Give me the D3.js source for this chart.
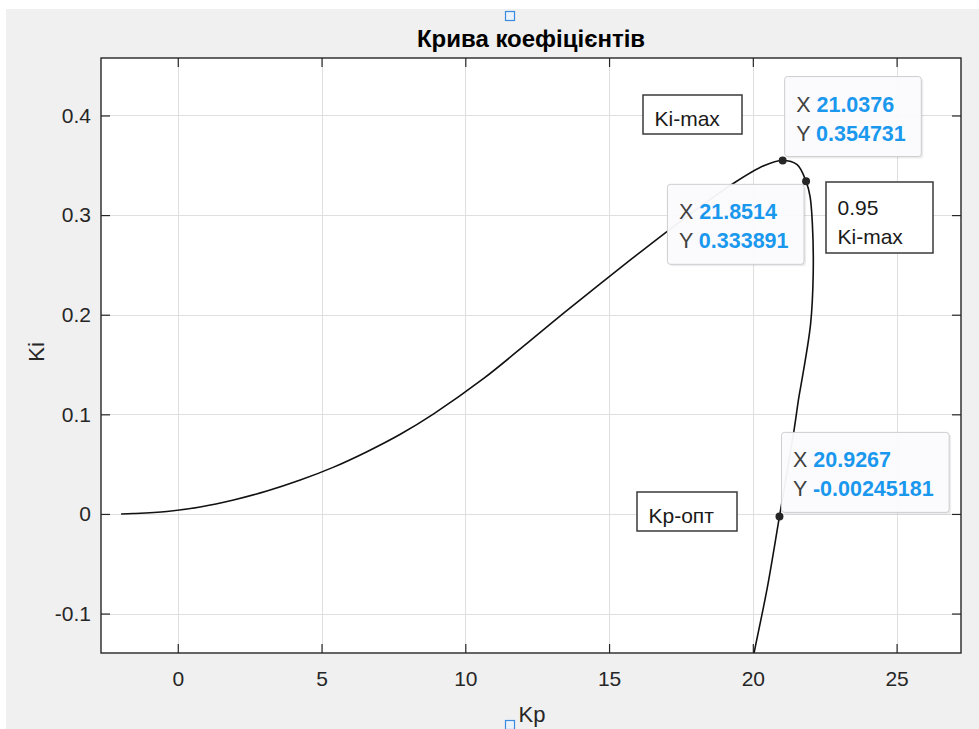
<!DOCTYPE html>
<html>
  <head>
    <meta charset="utf-8">
    <title>Крива коефіцієнтів</title>
    <script src="https://d3js.org/d3.v7.min.js" charset="utf-8"></script>
    <style>
      body {
        margin: 0;
        overflow: hidden;
        background: #ffffff;
      }
      text {
        font-family: "Liberation Sans", Arial, sans-serif;
      }
    </style>
  </head>
  <body>
    <script type="text/javascript">
      // curve (Kp on x, Ki on y)
      var kp = [-1.97, -1.54, -0.38, 0.78, 1.94, 3.10, 4.26, 5.42, 6.58, 7.74, 8.90, 10.64, 12.26,
                13.42, 14.58, 15.74, 16.90, 18.10, 19.28, 20.38, 21.0376, 21.54, 21.8514, 21.99,
                22.07, 22.10, 22.01, 21.74, 21.60, 21.43, 20.9267, 20.50, 20.03, 19.98];
      var ki = [0.0, 0.0004, 0.0025, 0.007, 0.014, 0.023, 0.034, 0.047, 0.0625, 0.080, 0.1005, 0.136, 0.174,
                0.2015, 0.2285, 0.255, 0.281, 0.307, 0.331, 0.3495, 0.354731, 0.3506, 0.333891, 0.3187,
                0.2918, 0.2414, 0.191, 0.140, 0.117, 0.0835, -0.00245181, -0.0745, -0.1416, -0.150];

      // data tips
      var tipX = [21.0376, 21.8514, 20.9267];
      var tipY = [0.354731, 0.333891, -0.00245181];
      var tipXText = ["21.0376", "21.8514", "20.9267"];
      var tipYText = ["0.354731", "0.333891", "-0.00245181"];

      var xTicks = [0, 5, 10, 15, 20, 25];
      var yTicks = [-0.1, 0, 0.1, 0.2, 0.3, 0.4];
      var yTickText = ["-0.1", "0", "0.1", "0.2", "0.3", "0.4"];

      var titleText = "Крива коефіцієнтів";
      var xLabel = "Kp", yLabel = "Ki";

      var width = 979, height = 729;
      var axL = 101, axR = 961, axT = 58, axB = 653;
      var tickLen = 9;
      var dark = "#262626";

      var svg = d3.select("body").append("svg")
                  .attr("width", width)
                  .attr("height", height);

      // figure background
      svg.append("rect").attr("x", 0).attr("y", 0).attr("width", width).attr("height", height).attr("fill", "#ffffff");
      svg.append("rect").attr("x", 6).attr("y", 9).attr("width", width - 6).attr("height", height - 9).attr("fill", "#f0f0f0");

      var x = d3.scaleLinear().domain([-2.67, 27.24]).range([axL, axR]);
      var y = d3.scaleLinear().domain([-0.1396, 0.4577]).range([axB, axT]);

      svg.append("rect")
        .attr("x", axL).attr("y", axT)
        .attr("width", axR - axL).attr("height", axB - axT)
        .attr("fill", "#ffffff");

      // grid
      var grid = svg.append("g").attr("stroke", "#dfdfdf").attr("stroke-width", 1);
      grid.selectAll(".gx").data(xTicks).enter().append("line")
        .attr("x1", d => Math.round(x(d)) + 0.5).attr("x2", d => Math.round(x(d)) + 0.5)
        .attr("y1", axT).attr("y2", axB);
      grid.selectAll(".gy").data(yTicks).enter().append("line")
        .attr("y1", d => Math.round(y(d)) + 0.5).attr("y2", d => Math.round(y(d)) + 0.5)
        .attr("x1", axL).attr("x2", axR);

      // axes (ticks inside, mirrored on top/right)
      function styleAxis(g) {
        g.select(".domain").remove();
        g.selectAll(".tick line").attr("stroke", dark).attr("stroke-width", 1.2);
        g.selectAll(".tick text").attr("fill", dark).style("font-size", "21px")
          .style("font-family", "'Liberation Sans', Arial, sans-serif");
      }
      svg.append("g").attr("transform", "translate(0," + axB + ")")
        .call(d3.axisBottom(x).tickValues(xTicks).tickSizeInner(-tickLen).tickSizeOuter(0).tickPadding(18).tickFormat(d3.format("d")))
        .call(styleAxis);
      svg.append("g").attr("transform", "translate(0," + axT + ")")
        .call(d3.axisTop(x).tickValues(xTicks).tickSizeInner(-tickLen).tickSizeOuter(0).tickFormat(""))
        .call(styleAxis);
      svg.append("g").attr("transform", "translate(" + axL + ",0)")
        .call(d3.axisLeft(y).tickValues(yTicks).tickSizeInner(-tickLen).tickSizeOuter(0).tickPadding(10)
          .tickFormat((d, i) => yTickText[i]))
        .call(styleAxis);
      svg.append("g").attr("transform", "translate(" + axR + ",0)")
        .call(d3.axisRight(y).tickValues(yTicks).tickSizeInner(-tickLen).tickSizeOuter(0).tickFormat(""))
        .call(styleAxis);

      // curve
      svg.append("clipPath").attr("id", "clip")
        .append("rect").attr("x", axL).attr("y", axT).attr("width", axR - axL).attr("height", axB - axT);

      var pts = kp.map((d, i) => [d, ki[i]]);
      var line = d3.line().x(d => x(d[0])).y(d => y(d[1])).curve(d3.curveCatmullRom.alpha(0.5));
      svg.append("path")
        .attr("clip-path", "url(#clip)")
        .attr("d", line(pts))
        .attr("fill", "none")
        .attr("stroke", "#111111")
        .attr("stroke-width", 1.6);

      // box outline
      svg.append("rect")
        .attr("x", axL).attr("y", axT)
        .attr("width", axR - axL).attr("height", axB - axT)
        .attr("fill", "none").attr("stroke", dark).attr("stroke-width", 1.4);

      // text-box annotations
      var notes = [
        {lines: ["Ki-max"], x: 643, y: 95, w: 99, h: 39},
        {lines: ["0.95", "Ki-max"], x: 826, y: 182, w: 107, h: 71},
        {lines: ["Kp-опт"], x: 637, y: 492, w: 100, h: 39}
      ];
      notes.forEach(function(n) {
        var g = svg.append("g");
        g.append("rect").attr("x", n.x).attr("y", n.y).attr("width", n.w).attr("height", n.h)
          .attr("fill", "#ffffff").attr("stroke", "#3a3a3a").attr("stroke-width", 1.5);
        n.lines.forEach(function(t, i) {
          g.append("text").attr("x", n.x + 11.5).attr("y", n.y + (n.lines.length === 1 ? 31 : 33 + i * 28.5))
            .attr("fill", "#1a1a1a").style("font-size", "21px").text(t);
        });
      });

      // data tips: box corner sits on the point
      var tipPlace = ["ne", "sw", "ne"];
      tipX.forEach(function(tx, i) {
        var px = x(tx), py = y(tipY[i]);
        var g = svg.append("g");
        var shadow = g.append("rect").attr("rx", 3).attr("fill", "#000000").attr("opacity", 0.07);
        var box = g.append("rect").attr("rx", 3).attr("fill", "#fbfbfd").attr("fill-opacity", 0.96)
          .attr("stroke", "#cdcdd2").attr("stroke-width", 1);
        var t1 = g.append("text").attr("fill", "#404040").style("font-size", "21.5px");
        t1.append("tspan").text("X ");
        t1.append("tspan").attr("fill", "#1a98ee").attr("font-weight", "bold").text(tipXText[i]);
        var t2 = g.append("text").attr("fill", "#404040").style("font-size", "21.5px");
        t2.append("tspan").text("Y ");
        t2.append("tspan").attr("fill", "#1a98ee").attr("font-weight", "bold").text(tipYText[i]);
        var tw = Math.max(t1.node().getComputedTextLength(), t2.node().getComputedTextLength());
        var bw = tw + 27, bh = 80;
        var bx = tipPlace[i] === "ne" ? px + 2 : px - 2 - bw;
        var by = tipPlace[i] === "ne" ? py - 4 - bh : py + 3;
        box.attr("x", bx).attr("y", by).attr("width", bw).attr("height", bh);
        shadow.attr("x", bx + 2).attr("y", by + 2).attr("width", bw).attr("height", bh);
        t1.attr("x", bx + 11.5).attr("y", by + 35);
        t2.attr("x", bx + 11.5).attr("y", by + 64);
        svg.append("circle").attr("cx", px).attr("cy", py).attr("r", 4).attr("fill", dark);
      });

      // title and labels
      svg.append("text").attr("x", (axL + axR) / 2).attr("y", 47)
        .attr("text-anchor", "middle").attr("font-weight", "bold").attr("fill", "#000000")
        .style("font-size", "24px").text(titleText);
      svg.append("text").attr("x", (axL + axR) / 2 + 1).attr("y", 722)
        .attr("text-anchor", "middle").attr("fill", dark)
        .style("font-size", "22px").text(xLabel);
      svg.append("text").attr("transform", "translate(44,352) rotate(-90)")
        .attr("text-anchor", "middle").attr("fill", dark)
        .style("font-size", "22px").text(yLabel);

      // edit-mode handles on title and x label
      [[510, 16], [510, 725]].forEach(function(p) {
        svg.append("rect").attr("x", p[0] - 4.5).attr("y", p[1] - 4.5).attr("width", 9).attr("height", 9)
          .attr("fill", "#eaf2fc").attr("stroke", "#3b8ce0").attr("stroke-width", 1.2);
      });
    </script>
  </body>
</html>
